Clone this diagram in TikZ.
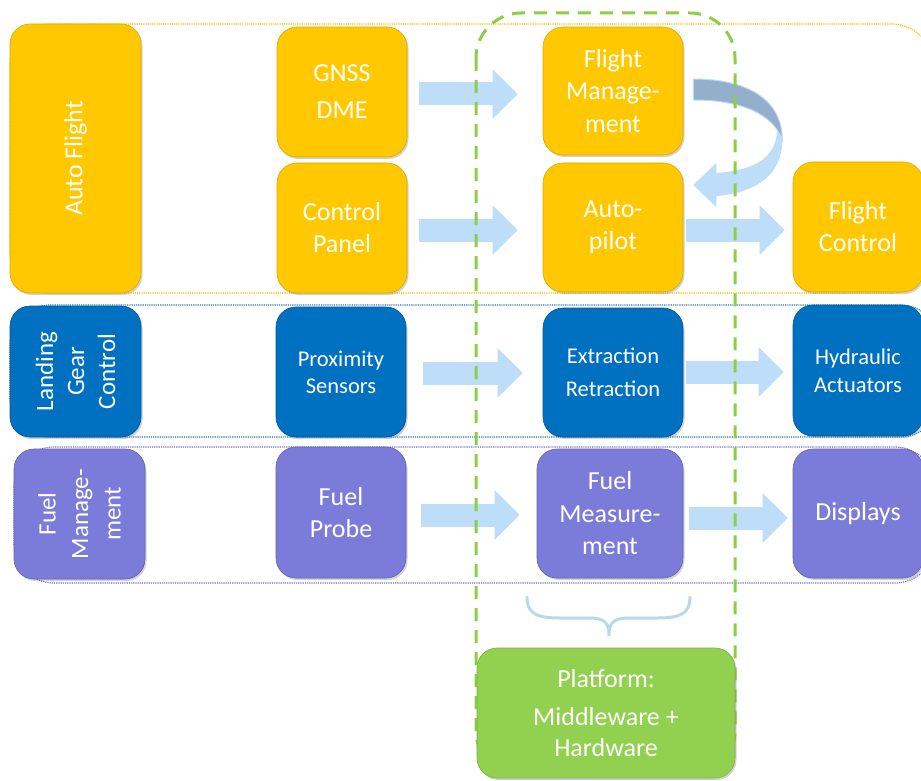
\documentclass[tikz,border=0pt]{standalone}
\usepackage{fontspec}
\setmainfont{Carlito}
\usetikzlibrary{shadows,arrows.meta,calc}
\definecolor{ylw}{HTML}{FFC800}
\definecolor{blu}{HTML}{0070C0}
\definecolor{pur}{HTML}{7B7CD9}
\definecolor{arr}{HTML}{BDDDF9}
\definecolor{arrdark}{HTML}{94AFCB}
\definecolor{grn}{HTML}{92D050}
\definecolor{grnd}{HTML}{8CCF47}
\definecolor{bracecol}{HTML}{B5DCE3}
\definecolor{bandblue}{HTML}{2E75B6}
\definecolor{bandpur}{HTML}{6F6FD0}
\definecolor{bandylw}{HTML}{FFC000}
\tikzset{
  box/.style={rounded corners=20pt, drop shadow={opacity=0.35, shadow xshift=1.5pt, shadow yshift=-2pt},
    text=white, align=center, inner sep=0pt, font=\fontsize{26}{32}\selectfont},
  ybox/.style={box, fill=ylw, draw=ylw!85!black, line width=0.6pt},
  bbox/.style={box, fill=blu, draw=blu!80!black, line width=0.6pt},
  pbox/.style={box, fill=pur, draw=pur!80!black, line width=0.6pt},
  gbox/.style={box, fill=grn, draw=grn!85!black, line width=0.6pt},
  fat/.style={arr, line width=23pt, -{Triangle[width=48pt,length=25pt]}},
  band/.style={densely dotted, line width=1.2pt, rounded corners=40pt},
  vlabel/.style={rotate=90, text=white, align=center, inner sep=0pt},
}
\begin{document}
\begin{tikzpicture}[x=1pt,y=-1pt]
\clip (0,0) rectangle (921,781);
\fill[white] (0,0) rectangle (921,781);
% bands
\draw[band, bandylw] (10,24) rectangle (932,293);
\draw[band, bandblue] (10,305) rectangle (940,437);
\draw[band, bandpur] (14,447) rectangle (935,583);
% boxes
\node[ybox, minimum width=131pt, minimum height=269pt] (af) at (75.5,158.5) {};
\node[vlabel, font=\fontsize{26}{32}\selectfont] (aft) at (af.center) {Auto Flight};
\node[ybox, minimum width=130pt, minimum height=130pt, font=\fontsize{26}{37}\selectfont] (gnss) at (342,92) {GNSS\\DME};
\node[ybox, minimum width=130pt, minimum height=130pt] (cp) at (342,228) {Control\\Panel};
\node[ybox, minimum width=140pt, minimum height=128pt, font=\fontsize{26}{32.5}\selectfont] (fm) at (613,91) {Flight\\Manage-\\ment};
\node[ybox, minimum width=140pt, minimum height=129pt] (ap) at (613,227.5) {Auto-\\pilot};
\node[ybox, minimum width=130pt, minimum height=130pt] (fc) at (858,227) {Flight\\Control};

\node[bbox, minimum width=131pt, minimum height=131pt] (lgc) at (75.5,371.5) {};
\node[vlabel, font=\fontsize{25}{31}\selectfont] (lgct) at (lgc.center) {Landing\\Gear\\Control};
\node[bbox, minimum width=130pt, minimum height=130pt, font=\fontsize{22.5}{27}\selectfont] (ps) at (341,372) {Proximity\\Sensors};
\node[bbox, minimum width=140pt, minimum height=129pt, font=\fontsize{22.5}{33}\selectfont] (er) at (613,372.5) {Extraction\\Retraction};
\node[bbox, minimum width=130pt, minimum height=131pt, font=\fontsize{22.5}{28}\selectfont] (ha) at (858,370.5) {Hydraulic\\Actuators};

\node[pbox, minimum width=131pt, minimum height=130pt] (fmg) at (79.5,514) {};
\node[vlabel, font=\fontsize{25}{32.5}\selectfont] (fmgt) at (fmg.center) {Fuel\\Manage-\\ment};
\node[pbox, minimum width=130pt, minimum height=131pt] (fp) at (341,512.5) {Fuel\\Probe};
\node[pbox, minimum width=146pt, minimum height=129pt, font=\fontsize{26}{32.5}\selectfont] (fms) at (610,513.5) {Fuel\\Measure-\\ment};
\node[pbox, minimum width=130pt, minimum height=129pt] (disp) at (858,513.5) {Displays};

% arrows
\draw[fat] ($(gnss.east)+(12,2)$) -- ($(fm.west)+(-25,3)$);
\draw[fat] ($(cp.east)+(12,2)$) -- ($(ap.west)+(-25,2.5)$);
\draw[fat] ($(ap.east)+(3,2.5)$) -- ($(fc.west)+(-8,3)$);
\draw[fat] ($(ps.east)+(17,1)$) -- ($(er.west)+(-20,0.5)$);
\draw[fat] ($(er.east)+(3,-0.5)$) -- ($(ha.west)+(-9,1.5)$);
\draw[fat] ($(fp.east)+(15,2.5)$) -- ($(fms.west)+(-17,1.5)$);
\draw[fat] ($(fms.east)+(6,4.5)$) -- ($(disp.west)+(-5,4.5)$);
% curved ribbon arrow from fm to ap
\coordinate (c1) at ($(fm.east)+(10,-1)$);
\coordinate (c2) at ($(ap.east)+(10,-42.5)$);
\fill[arr] ($(c1)+(85,40)$) -- ($(c1)+(89,50)$) .. controls ($(c1)+(89,85)$) and ($(c1)+(62,103)$) .. ($(c2)+(23,11)$)
  -- ($(c2)+(23,22)$) -- (c2) -- ($(c2)+(23,-22)$) -- ($(c2)+(23,-12)$)
  .. controls ($(c1)+(60,80)$) and ($(c1)+(82,70)$) .. ($(c1)+(84,40)$) -- cycle;
\filldraw[arrdark, draw=arr, line width=1pt] (c1) -- ($(c1)+(0,-11)$) .. controls ($(c1)+(55,-11)$) and ($(c1)+(89,10)$) .. ($(c1)+(89,50)$)
  .. controls ($(c1)+(80,25)$) and ($(c1)+(50,10)$) .. ($(c1)+(0,10)$) -- cycle;
% platform dashed region
\draw[grnd, line width=3pt, dash pattern=on 13pt off 9pt, rounded corners=45pt] (476,13) rectangle (735,776);
% brace
\coordinate (bl) at (527,597);
\coordinate (br) at (690,597);
\coordinate (bt) at (609,636);
\draw[bracecol, line width=3pt, line cap=round] (bl) .. controls ($(bl)+(0,18)$) and ($(bl)+(12,21)$) .. ($(bl)+(33,21)$) -- ($(bt)+(-20,-18)$)
  .. controls ($(bt)+(-3,-18)$) and ($(bt)+(0,-12)$) .. (bt)
  .. controls ($(bt)+(0,-12)$) and ($(bt)+(3,-18)$) .. ($(bt)+(20,-18)$) -- ($(br)+(-33,21)$)
  .. controls ($(br)+(-12,21)$) and ($(br)+(0,18)$) .. (br);
\node[gbox, minimum width=258pt, minimum height=130pt, font=\fontsize{26}{31}\selectfont] (plat) at (606,713) {Platform:\\[7pt]Middleware +\\Hardware};
\end{tikzpicture}
\end{document}
